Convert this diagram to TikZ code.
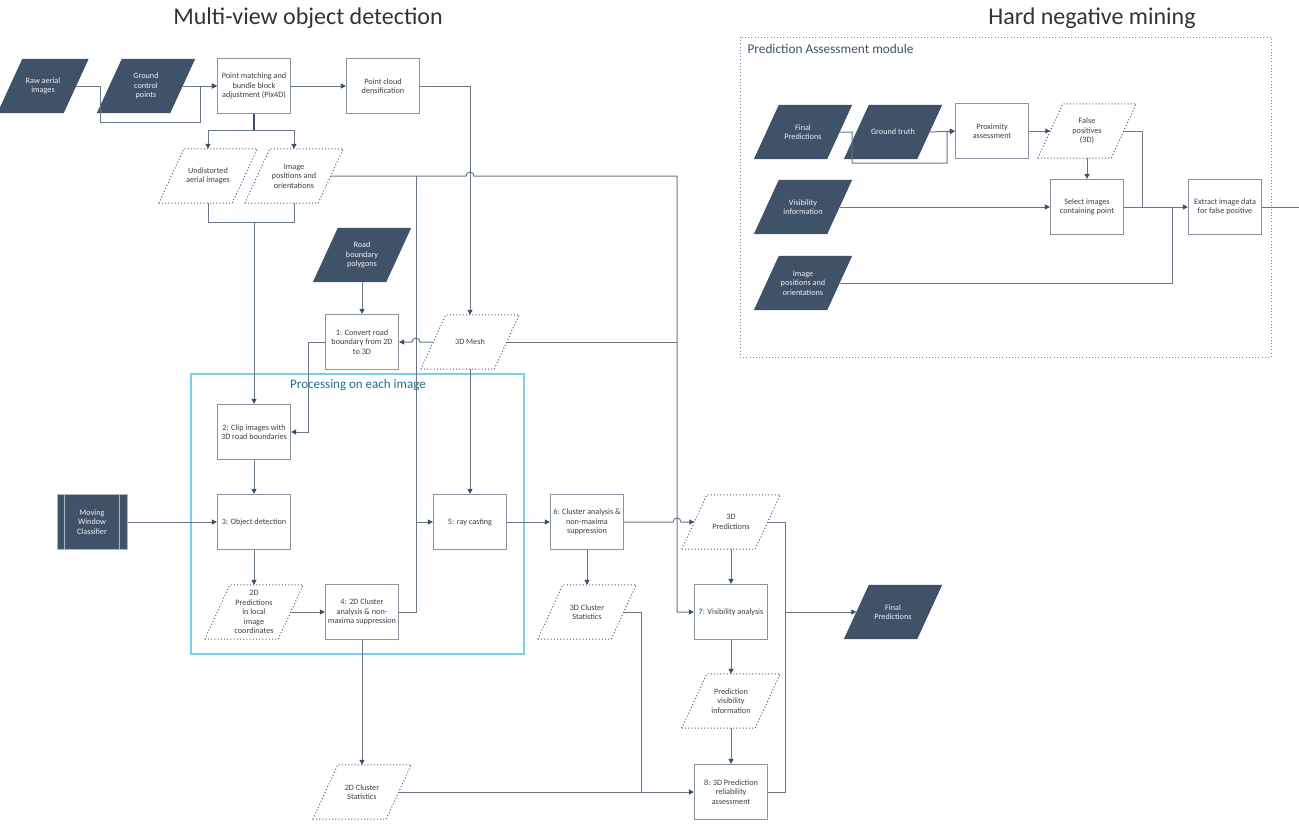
\documentclass[tikz,border=0pt]{standalone}
\usepackage{fontspec}
\setmainfont{Carlito}
\usetikzlibrary{arrows.meta,backgrounds}
\definecolor{slate}{RGB}{64,82,104}
\definecolor{boxline}{RGB}{138,149,162}
\definecolor{wirecol}{RGB}{105,118,135}
\definecolor{tipcol}{RGB}{62,78,100}
\definecolor{dotcol}{RGB}{85,85,140}
\definecolor{panelcol}{RGB}{125,125,190}
\definecolor{procline}{RGB}{125,205,235}
\definecolor{proctext}{RGB}{35,110,140}
\definecolor{txt}{RGB}{60,64,70}
\tikzset{
  small/.style={font=\fontsize{8.2}{9.4}\selectfont},
  box/.style={small, draw=boxline, line width=1.3pt, fill=white, minimum width=73pt,
    minimum height=55pt, align=center, text=txt, inner sep=1pt},
  data/.style={small, minimum width=73pt, minimum height=54pt, align=center, inner sep=0pt},
  input/.style={data, text=white!92!slate},
  store/.style={data, text=txt},
  link/.style={draw=wirecol, line width=1pt},
  flow/.style={link, -{Triangle[length=5pt,width=5pt,color=tipcol]}},
}
% parallelogram round a data node, slant 25pt
\newcommand\slantpath[1]{([xshift=-12.5pt]#1.south west) -- ([xshift=-12.5pt]#1.south east)
  -- ([xshift=12.5pt]#1.north east) -- ([xshift=12.5pt]#1.north west) -- cycle}
\begin{document}
\begin{tikzpicture}[x=1pt,y=-1pt]
    \useasboundingbox (0,0) rectangle (1299,828);
    % titles and frames
    \node[font=\fontsize{24}{28}\selectfont, text=black!80] (t1) at (308,18) {Multi-view object detection};
    \node[font=\fontsize{24}{28}\selectfont, text=black!80] (t2) at (1092,18) {Hard negative mining};
    \draw[procline, line width=1.1pt] (191,374) rectangle (524,654);
    \node[font=\fontsize{13}{15}\selectfont, text=proctext] (ptitle) at (358,385) {Processing on each image};
    \draw[panelcol, line width=1pt, dash pattern=on 1pt off 2.2pt] (740,37) rectangle (1271,357);
    \node[font=\fontsize{13.3}{15}\selectfont, text=slate, anchor=west] (atitle) at (744,49) {Prediction Assessment module};

    % multi-view object detection
    \node[input, minimum width=66pt] (raw) at (43,86) {Raw aerial\\images};
    \node[input] (gcp) at (146,86) {Ground\\control\\points};
    \node[box] (pix) at (254,86) {Point matching and\\bundle block\\adjustment (Pix4D)};
    \node[box] (pcd) at (383,86) {Point cloud\\densification};
    \node[store] (undist) at (208,176) {Undistorted\\aerial images};
    \node[store] (imgpos) at (294,176) {Image\\positions and\\orientations};
    \node[input] (road) at (362,255) {Road\\boundary\\polygons};
    \node[box] (conv) at (362,342) {1: Convert road\\boundary from 2D\\to 3D};
    \node[store] (mesh) at (470,342) {3D Mesh};
    \node[box] (clip) at (254,432) {2: Clip images with\\3D road boundaries};
    \node[box, fill=slate, draw=boxline!70, line width=1pt, minimum width=70pt, text=white!92!slate] (mwc) at (92,522) {Moving\\Window\\Classifier};
    \draw[boxline!70, line width=1pt] ([xshift=8pt]mwc.north west) -- ([xshift=8pt]mwc.south west);
    \draw[boxline!70, line width=1pt] ([xshift=-8pt]mwc.north east) -- ([xshift=-8pt]mwc.south east);
    \node[box] (det) at (254,522) {3: Object detection};
    \node[store] (pred2d) at (254,612) {2D\\Predictions\\in local\\image\\coordinates};
    \node[box] (clus4) at (362,612) {4: 2D Cluster\\analysis \& non-\\maxima suppression};
    \node[box] (ray) at (470,522) {5: ray casting};
    \node[box] (clus6) at (587,522) {6: Cluster analysis \&\\non-maxima\\suppression};
    \node[store] (pred3d) at (731,522) {3D\\Predictions};
    \node[store] (stat3d) at (587,612) {3D Cluster\\Statistics};
    \node[box] (vis) at (731,612) {7: Visibility analysis};
    \node[input] (final) at (893,612) {Final\\Predictions};
    \node[store] (pvi) at (731,701) {Prediction\\visibility\\information};
    \node[store] (stat2d) at (362,792) {2D Cluster\\Statistics};
    \node[box] (rel) at (731,792) {8: 3D Prediction\\reliability\\assessment};

    % hard negative mining
    \node[input] (finalr) at (803,132) {Final\\Predictions};
    \node[input] (gt) at (893,132) {Ground truth};
    \node[box] (prox) at (992,131) {Proximity\\assessment};
    \node[store] (fp) at (1087,131) {False\\positives\\(3D)};
    \node[input] (visinfo) at (803,207) {Visibility\\information};
    \node[input] (imgposr) at (803,283) {Image\\positions and\\orientations};
    \node[box] (sel) at (1087,207) {Select images\\containing point};
    \node[box] (ext) at (1225,207) {Extract image data\\for false positive};
    \coordinate (out) at (1299,207);

    % parallelogram outlines behind the texts
    \begin{scope}[on background layer]
      \foreach \n in {raw,gcp,road,final,finalr,gt,visinfo,imgposr}
        \fill[slate] \slantpath{\n};
      \foreach \n in {undist,imgpos,mesh,pred2d,pred3d,stat3d,pvi,stat2d,fp}
        \draw[dotcol, line width=1pt, dash pattern=on 1pt off 2.2pt, fill=white] \slantpath{\n};
    \end{scope}

    \draw[flow] (raw.east) -- (100,86) -- (100,122) -- (200,122) -- (200,86) -- (pix.west);
    \draw[flow] (gcp.east) -- (pix.west);
    \draw[flow] (pix.east) -- (pcd.west);
    \draw[flow] (pcd.east) -| (mesh.north);
    \draw[link, line width=1.5pt, draw=tipcol] (pix.south) -- (254,130);
    \draw[flow] (254,130) -| (undist.north);
    \draw[flow] (254,130) -| (imgpos.north);
    \draw[flow] (undist.south) |- (254,222) -- (clip.north);
    \draw[link] (imgpos.south) |- (254,222);
    \draw[flow] (imgpos.east) -- (466,176) arc[start angle=180,end angle=0,radius=4pt] -- (677,176) -- (677,612) -- (vis.west);
    \draw[flow] (416,176) -- (416,522) -- (ray.west);
    \draw[link] (clus4.east) -- (416,612) -- (416,522);
    \draw[flow] (road.south) -- (conv.north);
    \draw[flow] (mesh.west) -- (420,342) arc[start angle=0,end angle=180,radius=4pt] -- (conv.east);
    \draw[link] (mesh.east) -- (677,342);
    \draw[flow] (conv.west) -- (308,342) |- (clip.east);
    \draw[flow] (mesh.south) -- (ray.north);
    \draw[flow] (clip.south) -- (det.north);
    \draw[flow] (mwc.east) -- (det.west);
    \draw[flow] (det.south) -- (pred2d.north);
    \draw[flow] (pred2d.east) -- (clus4.west);
    \draw[flow] (clus4.south) -- (stat2d.north);
    \draw[flow] (ray.east) -- (clus6.west);
    \draw[flow] (clus6.east) -- (673,522) arc[start angle=180,end angle=0,radius=4pt] -- (pred3d.west);
    \draw[flow] (clus6.south) -- (stat3d.north);
    \draw[flow] (pred3d.south) -- (vis.north);
    \draw[flow] (pred3d.east) -- (785,522) -- (785,612) -- (final.west);
    \draw[link] (rel.east) -- (785,792) -- (785,612);
    \draw[link] (stat3d.east) -- (641,612) -- (641,792);
    \draw[flow] (stat2d.east) -- (rel.west);
    \draw[flow] (vis.south) -- (pvi.north);
    \draw[flow] (pvi.south) -- (rel.north);

    \draw[flow] (finalr.east) -- (852,132) -- (852,163) -- (947,163) -- (947,132) -- (prox.west);
    \draw[flow] (gt.east) -- (prox.west);
    \draw[flow] (prox.east) -- (fp.west);
    \draw[flow] (fp.south) -- (sel.north);
    \draw[link] (fp.east) -- (1142,131) -- (1142,207);
    \draw[flow] (visinfo.east) -- (sel.west);
    \draw[flow] (sel.east) -- (ext.west);
    \draw[link] (imgposr.east) -- (1172,283) -- (1172,207);
    \draw[link] (ext.east) -- (out);
\end{tikzpicture}
\end{document}
